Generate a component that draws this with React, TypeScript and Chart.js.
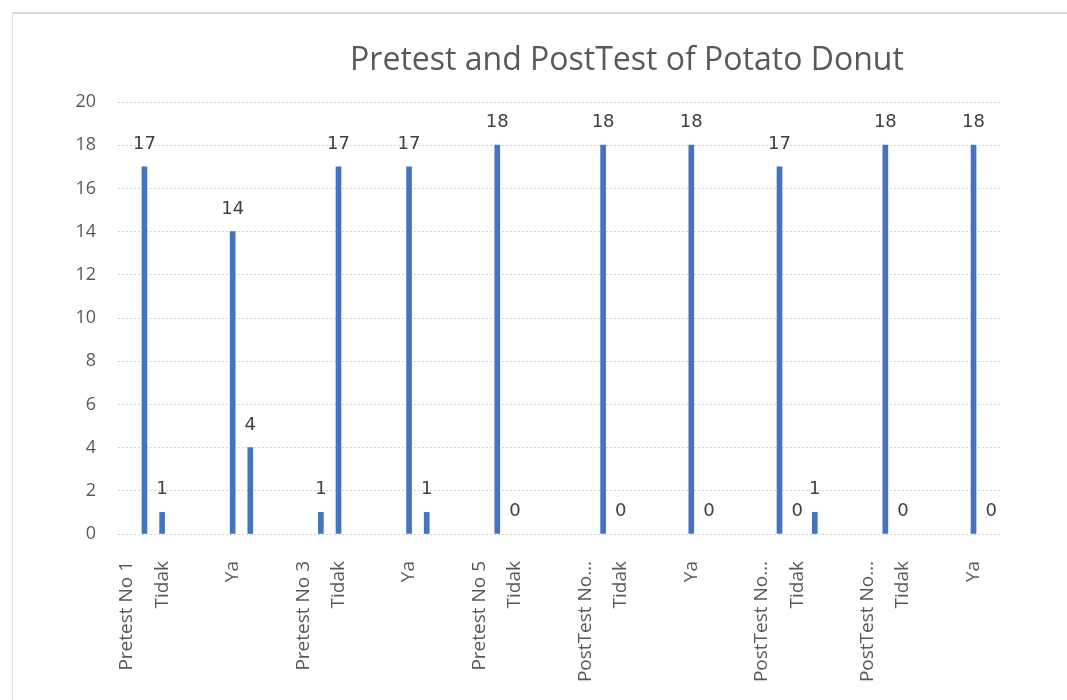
import React, { useEffect, useRef } from "react";
import { Chart, registerables } from "chart.js";

Chart.register(...registerables);

const TITLE = "Pretest and PostTest of Potato Donut";

// Category axis has 50 slots; only some carry a label or a bar.
const SLOT_COUNT = 50;

const labelSlots = [0, 2, 6, 10, 12, 16, 20, 22, 26, 28, 32, 36, 38, 42, 44, 48];
const labelTexts = [
  "Pretest No 1", "Tidak", "Ya",
  "Pretest No 3", "Tidak", "Ya",
  "Pretest No 5", "Tidak",
  "PostTest No…", "Tidak", "Ya",
  "PostTest No…", "Tidak",
  "PostTest No…", "Tidak", "Ya",
];

const barSlots = [1, 2, 6, 7, 11, 12, 16, 17, 21, 22, 27, 28, 32, 33, 37, 38, 39, 43, 44, 48, 49];
const barValues = [17, 1, 14, 4, 1, 17, 17, 1, 18, 0, 18, 0, 18, 0, 17, 0, 1, 18, 0, 18, 0];

const yMin = 0;
const yMax = 20;
const yStep = 2;

const categories: string[] = Array.from({ length: SLOT_COUNT }, () => "");
labelSlots.forEach((s, i) => (categories[s] = labelTexts[i]));
const seriesData: (number | null)[] = Array.from({ length: SLOT_COUNT }, () => null);
barSlots.forEach((s, i) => (seriesData[s] = barValues[i]));

const BAR_COLOR = "#4472C4";

const titlePlugin = {
  id: "customTitle",
  afterDraw(chart: any) {
    const ctx = chart.ctx;
    ctx.save();
    ctx.font = '32px "Open Sans"';
    ctx.fillStyle = "#595959";
    ctx.textAlign = "center";
    ctx.textBaseline = "alphabetic";
    ctx.fillText(TITLE, 627, 70);
    ctx.restore();
  },
};

const valueLabelPlugin = {
  id: "valueLabels",
  afterDatasetsDraw(chart: any) {
    const ctx = chart.ctx;
    ctx.save();
    ctx.font = '18px "DejaVu Sans"';
    ctx.fillStyle = "#404040";
    ctx.textAlign = "center";
    ctx.textBaseline = "alphabetic";
    chart.data.datasets.forEach((ds: any, di: number) => {
      const meta = chart.getDatasetMeta(di);
      meta.data.forEach((el: any, i: number) => {
        const v = ds.data[i];
        if (v === null || v === undefined) return;
        ctx.fillText(String(v), el.x, el.y - 18);
      });
    });
    ctx.restore();
  },
};

export default function App() {
  const canvasRef = useRef<HTMLCanvasElement | null>(null);

  useEffect(() => {
    if (!canvasRef.current) return;
    const chart = new Chart(canvasRef.current, {
      type: "bar",
      data: {
        labels: categories,
        datasets: [
          {
            data: seriesData,
            backgroundColor: (c: any) => (c.raw === 0 ? "rgba(0,0,0,0)" : BAR_COLOR),
            barThickness: 5,
          },
        ],
      },
      options: {
        animation: false,
        responsive: false,
        devicePixelRatio: 1,
        layout: { padding: { left: 0, right: 67, top: 102, bottom: 0 } },
        plugins: {
          legend: { display: false },
          title: { display: false },
          tooltip: { enabled: false },
        },
        scales: {
          x: {
            type: "category",
            offset: true,
            grid: { display: false, drawTicks: false },
            border: { display: false },
            ticks: {
              autoSkip: false,
              maxRotation: 90,
              minRotation: 90,
              padding: 27,
              color: "#595959",
              font: { family: "Open Sans", size: 19 },
            },
            afterFit: (scale: any) => {
              scale.height = 166;
            },
          },
          y: {
            min: yMin,
            max: yMax,
            grid: { color: "#d3d3d3", drawTicks: false, lineWidth: 1 },
            border: { display: false, dash: [2, 2] },
            ticks: {
              stepSize: yStep,
              padding: 22,
              color: "#595959",
              font: { family: "Open Sans", size: 18 },
            },
            afterFit: (scale: any) => {
              scale.width = 118;
            },
          },
        },
      },
      plugins: [titlePlugin, valueLabelPlugin],
    });
    return () => chart.destroy();
  }, []);

  return (
    <div style={{ position: "fixed", left: 0, top: 0, width: 1067, height: 700, background: "#fff", overflow: "hidden" }}>
      <div
        style={{
          position: "absolute",
          left: 12,
          top: 12,
          width: 1100,
          height: 720,
          borderTop: "2px solid #dadada",
          borderLeft: "1px dotted #cfcfcf",
        }}
      />
      <canvas ref={canvasRef} width={1067} height={700} style={{ position: "absolute", left: 0, top: 0 }} />
    </div>
  );
}
